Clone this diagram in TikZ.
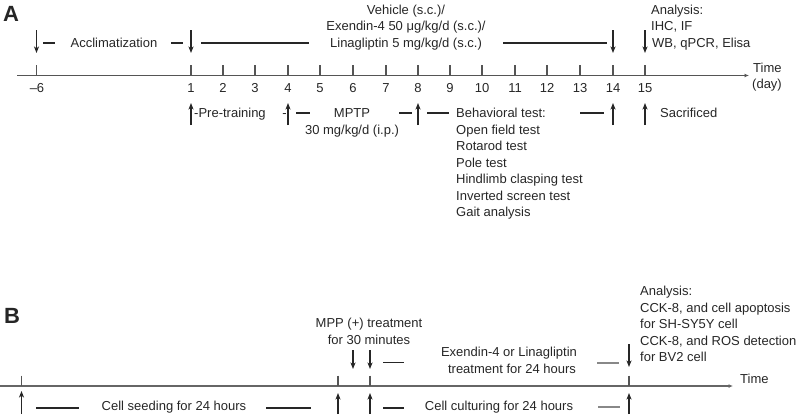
\documentclass[tikz,border=0pt]{standalone}
\usepackage{fontspec}
\setmainfont{Liberation Sans}
\usetikzlibrary{arrows.meta}
\definecolor{ink}{HTML}{262626}
\definecolor{axc}{HTML}{555555}
\definecolor{gdc}{HTML}{888888}
\tikzset{
  txt/.style={font=\fontsize{13}{16.5}\selectfont, inner sep=0pt, text=ink},
  lbl/.style={font=\fontsize{22}{22}\selectfont\bfseries, inner sep=0pt, text=ink, anchor=base west},
  arr/.style={draw=ink, line width=1.2pt, -{Stealth[length=6.5pt,width=5pt,inset=1.8pt]}},
  dsh/.style={draw=ink, line width=1.2pt},
  gdsh/.style={draw=gdc, line width=1.6pt},
  axis/.style={draw=axc, line width=1.7pt, -{Latex[length=4.5pt,width=4pt]}},
  tck/.style={draw=axc, line width=1.3pt},
}
\begin{document}
\begin{tikzpicture}[x=1pt,y=-1pt]
\useasboundingbox (0,0) rectangle (799,416);
% ---------------- Panel A ----------------
\node[lbl] (labA) at (3,21.5) {A};
% axis
\coordinate (axAs) at (17,75.5);
\coordinate (axAe) at (749,75.5);
\draw[axis] (axAs) -- (axAe);
\foreach \d/\x in {-6/36.5,1/191,2/223,3/255,4/288,5/320,6/353,7/386,8/418,9/450,10/482,11/515,12/547,13/580,14/613,15/645}{
  \draw[tck] (\x,65) -- (\x,75.5);
}
\foreach \d/\x in {1/191,2/223,3/255,4/288,5/320,6/353,7/386,8/418,9/450,10/482,11/515,12/547,13/580,14/613,15/645}{
  \node[txt, anchor=base] (nA\d) at (\x,92.5) {\d};
}
\node[txt, anchor=base] (nAm6) at (37,92.5) {–6};
\node[txt, anchor=base west] (timeA1) at (753,72) {Time};
\node[txt, anchor=base west] (timeA2) at (752,88) {(day)};
% top row
\draw[arr] (36.5,30) -- (36.5,53);
\draw[dsh] (43,43) -- (55,43);
\node[txt, anchor=base] (accl) at (114,47) {Acclimatization};
\draw[dsh] (171,43) -- (183,43);
\draw[arr] (191,30) -- (191,53);
\draw[dsh] (201,43) -- (309,43);
\node[txt, anchor=base] (veh1) at (406,14) {Vehicle (s.c.)/};
\node[txt, anchor=base] (veh2) at (406,30.5) {Exendin-4 50 μg/kg/d (s.c.)/};
\node[txt, anchor=base] (veh3) at (406,47) {Linagliptin 5 mg/kg/d (s.c.)};
\draw[dsh] (503,43) -- (607,43);
\draw[arr] (613,30) -- (613,53);
\draw[arr] (645,30) -- (645,53);
\node[txt, anchor=base west] (anA1) at (651,14) {Analysis:};
\node[txt, anchor=base west] (anA2) at (651,30.5) {IHC, IF};
\node[txt, anchor=base west] (anA3) at (652,47) {WB, qPCR, Elisa};
% bottom row
\draw[arr] (191,125) -- (191,103);
\node[txt, anchor=base west] (pretr) at (194,117.5) {-Pre-training};
\node[txt, anchor=base] (hyph) at (284.5,117.5) {-};
\draw[arr] (288,125) -- (288,103);
\draw[dsh] (296,113) -- (310,113);
\node[txt, anchor=base] (mptp1) at (352,117.5) {MPTP};
\node[txt, anchor=base] (mptp2) at (352,134) {30 mg/kg/d (i.p.)};
\draw[dsh] (399,113) -- (412,113);
\draw[arr] (418,125) -- (418,103);
\draw[dsh] (427,113) -- (449,113);
\foreach \i/\t in {0/Behavioral test:,1/Open field test,2/Rotarod test,3/Pole test,4/Hindlimb clasping test,5/Inverted screen test,6/Gait analysis}{
  \node[txt, anchor=base west] (beh\i) at (456,117.5+16.5*\i) {\t};
}
\draw[dsh] (580,113) -- (604,113);
\draw[arr] (613,125) -- (613,103);
\draw[arr] (645,125) -- (645,103);
\node[txt, anchor=base west] (sacr) at (660,117.5) {Sacrificed};
% ---------------- Panel B ----------------
\node[lbl] (labB) at (4,323) {B};
\coordinate (axBs) at (0,386);
\coordinate (axBe) at (733,386);
\draw[axis, draw=axc!90] (axBs) -- (axBe);
\foreach \x in {21.5,338,370,629}{
  \draw[tck] (\x,375.5) -- (\x,386);
}
\node[txt, anchor=base west] (timeB) at (740,383.5) {Time};
% above axis
\node[txt, anchor=base] (mpp1) at (369,327.5) {MPP (+) treatment};
\node[txt, anchor=base] (mpp2) at (369,344) {for 30 minutes};
\draw[arr] (353,350) -- (353,369);
\draw[arr] (370,350) -- (370,369);
\draw[dsh] (383,362.5) -- (404,362.5);
\node[txt, anchor=base] (ex1) at (509,356.5) {Exendin-4 or Linagliptin};
\node[txt, anchor=base] (ex2) at (512,373) {treatment for 24 hours};
\draw[gdsh] (597,363) -- (619,363);
\draw[arr] (629,344) -- (629,367);
\foreach \i/\t in {0/Analysis:,1/{CCK-8, and cell apoptosis},2/for SH-SY5Y cell,3/{CCK-8, and ROS detection},4/for BV2 cell}{
  \node[txt, anchor=base west] (anB\i) at (640,295.5+16.5*\i) {\t};
}
% below axis
\draw[arr] (21.5,414) -- (21.5,391);
\draw[dsh] (36,408) -- (79,408);
\node[txt, anchor=base] (seed) at (174,410.5) {Cell seeding for 24 hours};
\draw[dsh] (266,408) -- (311,408);
\draw[arr] (338,414) -- (338,393);
\draw[arr] (370,414) -- (370,393);
\draw[dsh] (383,408) -- (404,408);
\node[txt, anchor=base] (cult) at (499,410.5) {Cell culturing for 24 hours};
\draw[gdsh] (598,407) -- (620,407);
\draw[arr] (629,414) -- (629,393);
\end{tikzpicture}
\end{document}
